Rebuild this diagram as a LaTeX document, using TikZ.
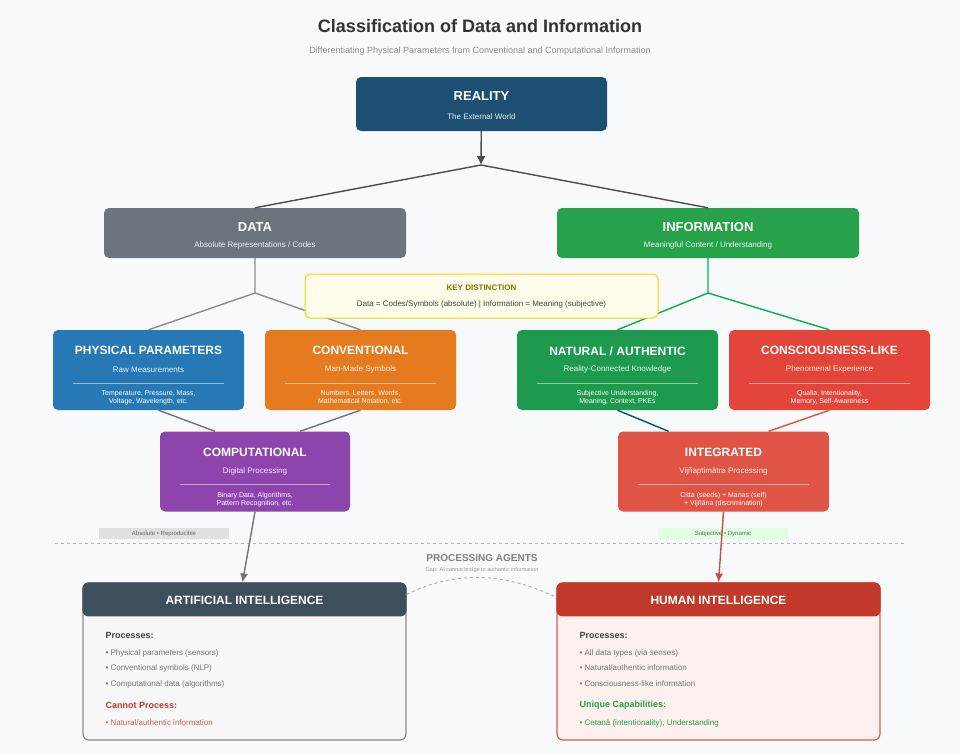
\documentclass[tikz,border=0pt]{standalone}
\usepackage{fontspec}
\setmainfont{Liberation Sans}
\usetikzlibrary{arrows.meta,positioning}

\definecolor{bgc}{HTML}{F8F9FA}
\definecolor{realc}{HTML}{1D4F72}
\definecolor{datac}{HTML}{6C757D}
\definecolor{infoc}{HTML}{27A24A}
\definecolor{physc}{HTML}{2779B5}
\definecolor{convc}{HTML}{E57A1F}
\definecolor{natc}{HTML}{1E9A4E}
\definecolor{consc}{HTML}{E3453A}
\definecolor{compc}{HTML}{8E44AD}
\definecolor{integc}{HTML}{E05445}
\definecolor{aic}{HTML}{3E4F5C}
\definecolor{humc}{HTML}{C0392B}
\definecolor{keyc}{HTML}{8A7000}

\tikzset{
  box/.style={rounded corners=5pt, draw=none, minimum height=80, inner sep=0pt},
  ttl/.style={text=white, font=\bfseries\fontsize{12}{14}\selectfont},
  sub/.style={text=white, opacity=.9, font=\fontsize{8}{10}\selectfont},
  det/.style={text=white, align=center, font=\fontsize{7}{8}\selectfont},
  link/.style={line width=1.4pt},
  tag/.style={font=\fontsize{6}{7}\selectfont, text=black!60, minimum width=130, minimum height=11, inner sep=0pt},
  item/.style={anchor=west, font=\fontsize{8}{10}\selectfont, text=black!55},
  head/.style={anchor=west, font=\bfseries\fontsize{9}{11}\selectfont},
}

% category box: name, cx, cy, width, colour, title, subtitle, details
\newcommand\catbox[8]{%
  \node[box, fill=#5, minimum width=#4] (#1) at (#2,#3) {};
  \node[ttl] (#1-t) at ([yshift=-21]#1.north) {#6};
  \node[sub] (#1-s) at ([yshift=-40]#1.north) {#7};
  \draw[white, opacity=.5] ([xshift=20,yshift=-53]#1.north west) -- ([xshift=-20,yshift=-53]#1.north east);
  \node[det] (#1-d) at ([yshift=-68]#1.north) {#8};
}

\begin{document}
\begin{tikzpicture}[x=1pt,y=-1pt]
  \fill[bgc] (0,0) rectangle (960,753);
  \useasboundingbox (0,0) rectangle (960,753);

  \node[font=\bfseries\fontsize{18}{20}\selectfont, text=black!80] (title) at (480,26) {Classification of Data and Information};
  \node[font=\fontsize{9}{11}\selectfont, text=black!45] (subtitle) at (480,51) {Differentiating Physical Parameters from Conventional and Computational Information};

  % top levels
  \node[box, fill=realc, minimum width=251, minimum height=54] (real) at (481.5,104) {};
  \node[ttl, font=\bfseries\fontsize{13}{15}\selectfont] (real-t) at ([yshift=-19]real.north) {REALITY};
  \node[sub] (real-s) at ([yshift=-40]real.north) {The External World};

  \node[box, fill=datac, minimum width=302, minimum height=50] (data) at (255,233) {};
  \node[ttl, font=\bfseries\fontsize{13}{15}\selectfont] (data-t) at ([yshift=-19]data.north) {DATA};
  \node[sub] (data-s) at ([yshift=-38]data.north) {Absolute Representations / Codes};

  \node[box, fill=infoc, minimum width=302, minimum height=50] (info) at (708,233) {};
  \node[ttl, font=\bfseries\fontsize{13}{15}\selectfont] (info-t) at ([yshift=-19]info.north) {INFORMATION};
  \node[sub] (info-s) at ([yshift=-38]info.north) {Meaningful Content / Understanding};

  \coordinate (split) at (481,165);
  \draw[-{Latex[length=9pt,width=9pt]}, link, black!70] (real) -- (split);
  \draw[link, black!70] (data.north) -- (split) -- (info.north);

  % second level
  \catbox{phys}{148.5}{370}{191}{physc}{PHYSICAL PARAMETERS}{Raw Measurements}{Temperature, Pressure, Mass,\\Voltage, Wavelength, etc.}
  \catbox{conv}{360.5}{370}{191}{convc}{CONVENTIONAL}{Man-Made Symbols}{Numbers, Letters, Words,\\Mathematical Notation, etc.}
  \catbox{nat}{617.5}{370}{201}{natc}{NATURAL / AUTHENTIC}{Reality-Connected Knowledge}{Subjective Understanding,\\Meaning, Context, PKEs}
  \catbox{cons}{829.5}{370}{201}{consc}{CONSCIOUSNESS-LIKE}{Phenomenal Experience}{Qualia, Intentionality,\\Memory, Self-Awareness}
  \catbox{comp}{255}{471.5}{190}{compc}{COMPUTATIONAL}{Digital Processing}{Binary Data, Algorithms,\\Pattern Recognition, etc.}
  \catbox{integ}{723.5}{471.5}{211}{integc}{INTEGRATED}{Vijñaptimātra Processing}{Citta (seeds) + Manas (self)\\+ Vijñāna (discrimination)}

  \coordinate (dsplit) at (255,293);
  \coordinate (isplit) at (708,293);
  \draw[link, black!45] (data) -- (dsplit) -- (phys.north); \draw[link, black!45] (dsplit) -- (conv.north);
  \draw[link, teal!60!green] (info) -- (isplit) -- (nat.north); \draw[link, teal!60!green] (isplit) -- (cons.north);
  \draw[link, black!55] ([xshift=10]phys.south) -- ([xshift=-40]comp.north);
  \draw[link, black!55] (conv.south) -- ([xshift=45]comp.north);
  \draw[link, teal!70!black] (nat.south) -- ([xshift=-55]integ.north);
  \draw[link, integc] (cons.south) -- ([xshift=45]integ.north);

  % key distinction
  \node[rounded corners=5pt, fill=yellow!8, draw=yellow!70!orange, line width=1pt, minimum width=353, minimum height=44] (key) at (481.5,296) {};
  \node[font=\bfseries\fontsize{8}{10}\selectfont, text=keyc] (key-t) at ([yshift=-14]key.north) {KEY DISTINCTION};
  \node[font=\fontsize{8}{10}\selectfont, text=black!75] (key-s) at ([yshift=-31]key.north) {Data = Codes/Symbols (absolute) | Information = Meaning (subjective)};

  % tags and divider
  \node[tag, fill=black!12] (abs) at (164,533.5) {Absolute • Reproducible};
  \node[tag, fill=green!12] (subj) at (723,533.5) {Subjective • Dynamic};
  \draw[dashed, black!30, line width=1pt] (55,543) -- (905,543);
  \node[font=\bfseries\fontsize{10}{12}\selectfont, text=black!50] (agents) at (482,558) {PROCESSING AGENTS};
  \node[font=\fontsize{5.5}{6}\selectfont, text=black!40] (gap) at (482,570) {Gap: AI cannot bridge to authentic information};

  % agents
  \node[rounded corners=6pt, fill=black!3, draw=black!45, line width=1.2pt, minimum width=323, minimum height=157, inner sep=0pt] (ai) at (244.5,661.5) {};
  \fill[aic, rounded corners=6pt] (ai.north west) rectangle ([yshift=-34]ai.north east);
  \node[text=white, font=\bfseries\fontsize{12}{14}\selectfont] (ai-t) at ([yshift=-18]ai.north) {ARTIFICIAL INTELLIGENCE};
  \node[head, text=black!75] (ai-p) at (102,635) {Processes:};
  \node[item] (ai-1) at (102,653) {• Physical parameters (sensors)};
  \node[item] (ai-2) at (102,668) {• Conventional symbols (NLP)};
  \node[item] (ai-3) at (102,684) {• Computational data (algorithms)};
  \node[head, text=humc] (ai-c) at (102,705) {Cannot Process:};
  \node[item, text=humc!80] (ai-4) at (102,723) {• Natural/authentic information};

  \node[rounded corners=6pt, fill=red!6, draw=humc!80, line width=1.2pt, minimum width=323, minimum height=157, inner sep=0pt] (hum) at (718.5,661.5) {};
  \fill[humc, rounded corners=6pt] (hum.north west) rectangle ([yshift=-34]hum.north east);
  \node[text=white, font=\bfseries\fontsize{12}{14}\selectfont] (hum-t) at ([yshift=-18]hum.north) {HUMAN INTELLIGENCE};
  \node[head, text=black!75] (hum-p) at (576,635) {Processes:};
  \node[item] (hum-1) at (576,653) {• All data types (via senses)};
  \node[item] (hum-2) at (576,668) {• Natural/authentic information};
  \node[item] (hum-3) at (576,684) {• Consciousness-like information};
  \node[head, text=infoc] (hum-c) at (576,705) {Unique Capabilities:};
  \node[item, text=natc] (hum-4) at (576,723) {• Cetanā (intentionality), Understanding};

  \draw[-{Latex[length=9pt,width=8pt]}, link, black!55] (comp.south) -- ([xshift=-2]ai.north);
  \draw[-{Latex[length=9pt,width=8pt]}, link, humc!90] (integ.south) -- ([xshift=0]hum.north);
  \draw[dashed, black!30, line width=1pt] ([yshift=-12]ai.north east) .. controls (460,568) and (510,575) .. ([yshift=-15]hum.north west);
\end{tikzpicture}
\end{document}
